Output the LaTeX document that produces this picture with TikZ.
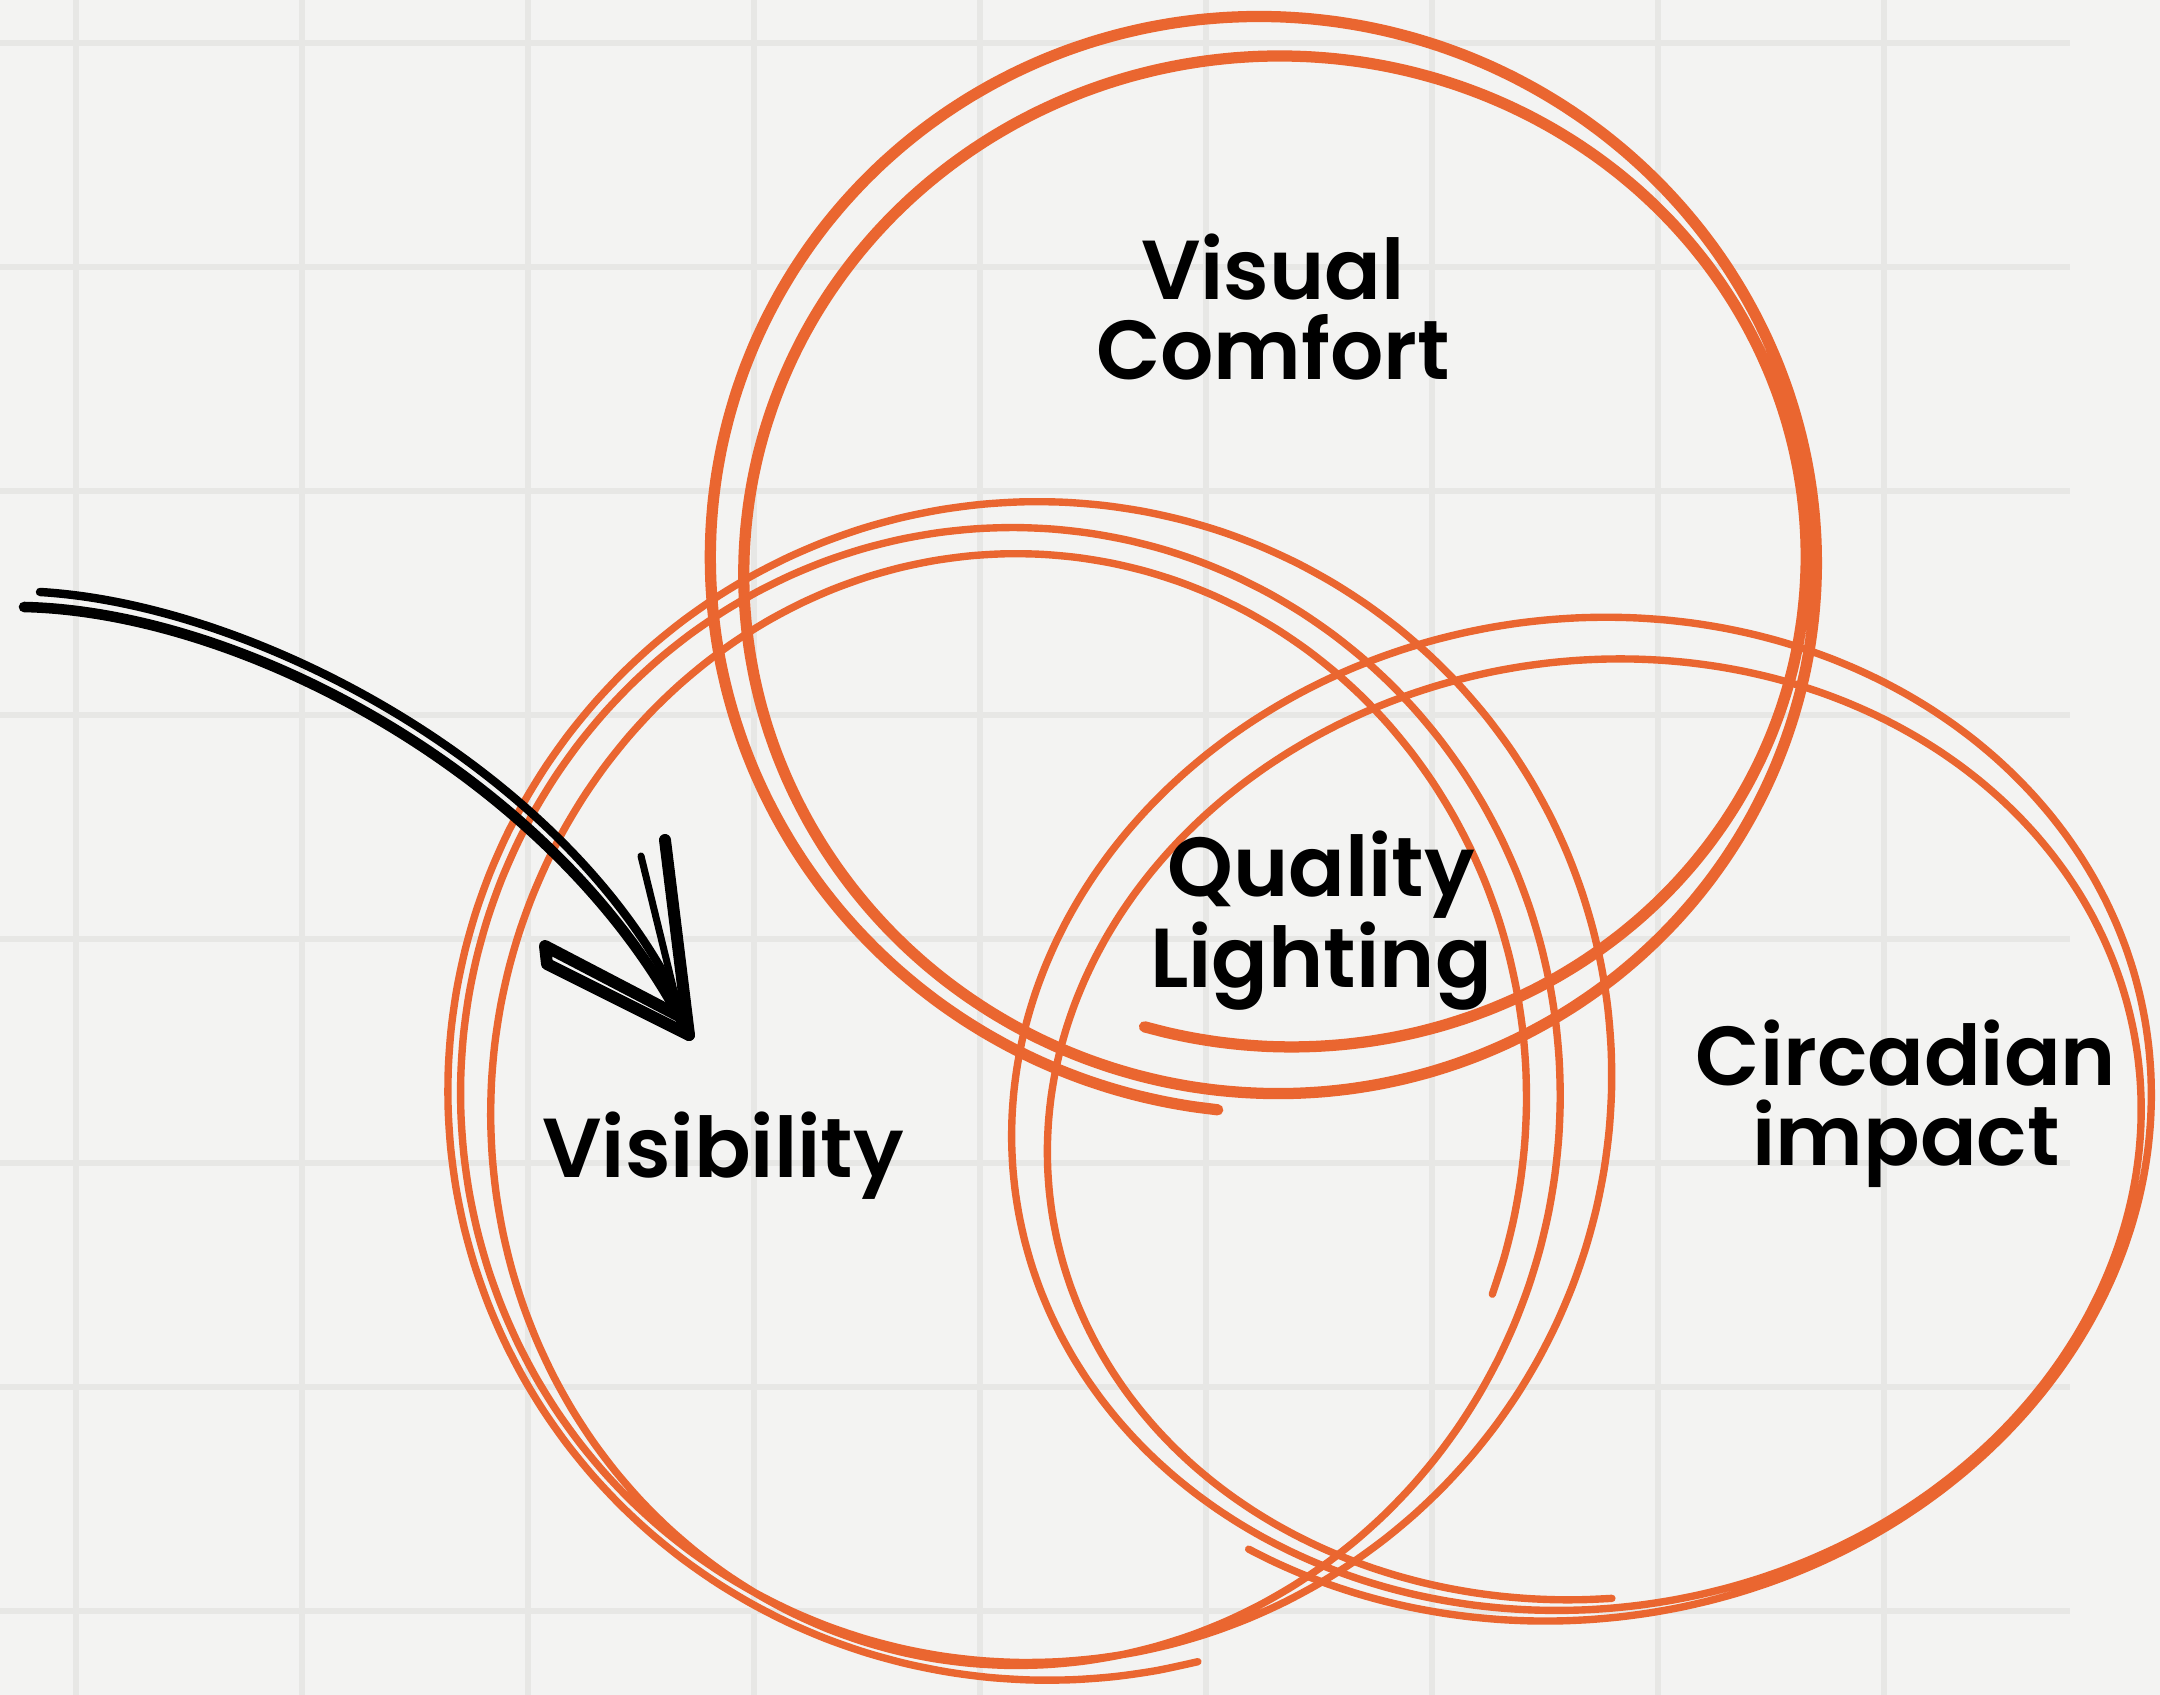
\documentclass[tikz,border=0pt]{standalone}
\usepackage{fontspec}
\setmainfont{Poppins}[BoldFont={Poppins SemiBold}]
\definecolor{paper}{HTML}{F3F3F2}
\definecolor{gridgrey}{HTML}{E7E7E5}
\definecolor{vennorange}{HTML}{EA6630}
\begin{document}
\begin{tikzpicture}[x=0.01cm, y=-0.01cm,
  gridline/.style={gridgrey, line width=1.5pt},
  loopline/.style={vennorange, line cap=round, line join=round},
  penstroke/.style={black, line width=3pt, line cap=round, line join=round},
  areatext/.style={font=\fontsize{23.8pt}{22.8pt}\selectfont\bfseries, align=center, inner sep=0pt}]
	\fill[paper] (0,0) rectangle (2160,1695);
	\useasboundingbox (0,0) rectangle (2160,1695);
	\foreach \gx in {76,302,...,1884} {\draw[gridline] (\gx,0) -- (\gx,1695);}
	\foreach \gy in {43,267,...,1611} {\draw[gridline] (0,\gy) -- (2070,\gy);}
	% three scribbled rings: centre, drift, radii, wobble, sweep, tilt, pen
	\foreach \cx/\cy/\dx/\dy/\ax/\da/\by/\db/\wb/\ta/\tb/\rot/\lw in {
		1276/560/0/0/565/-50/560/-70/8/-624/105/0/3.2pt,
		1040/1085/-30/20/605/-97/592/-44/6/-1005/20/0/2.1pt,
		1595/1140/-22/-36/540/48/458/55/0/-625/130/8/2.1pt}
	{\draw[loopline, line width=\lw, rotate around={\rot:(\cx,\cy)}]
		plot[domain=\ta:\tb, samples=260, smooth, variable=\t]
		({\cx+\dx*((\t-(\ta))/(\tb-(\ta)))+(\ax+\da*((\t-(\ta))/(\tb-(\ta)))+\wb*cos(1.4*\t))*cos(\t)},
		 {\cy+\dy*((\t-(\ta))/(\tb-(\ta)))+(\by+\db*((\t-(\ta))/(\tb-(\ta)))+\wb*cos(1.4*\t))*sin(\t)});}
	\coordinate (arrowtail) at (24,607);
	\coordinate (arrowtail2) at (40,592);
	\coordinate (arrowtip) at (689,1035);
	\coordinate (barbup) at (665,840);
	\coordinate (barbup2) at (641,856);
	\coordinate (barbleft) at (545,946);
	\coordinate (barbleft2) at (547,964);
	\draw[penstroke] (arrowtail) .. controls (250,612) and (565,785) .. (arrowtip);
	\draw[penstroke, line width=2.4pt] (arrowtail2) .. controls (262,605) and (577,777) .. ([shift={(-5,-22)}]arrowtip);
	\draw[penstroke, line width=3.4pt] (barbup) -- (arrowtip);
	\draw[penstroke, line width=2pt] (barbup2) -- ([shift={(-14,-40)}]arrowtip);
	\draw[penstroke, line width=3.4pt] ([shift={(-8,-18)}]arrowtip) -- (barbleft) -- (barbleft2) -- (arrowtip);
	\node[areatext] (comfort) at (1273,307) {Visual\\Comfort};
	\node[areatext] (quality) at (1321,921) {Quality\\Lighting};
	\node[areatext] (visibility) at (723,1156) {Visibility};
	\node[areatext] (circadian) at (1906,1104) {Circadian\\impact};
\end{tikzpicture}
\end{document}
